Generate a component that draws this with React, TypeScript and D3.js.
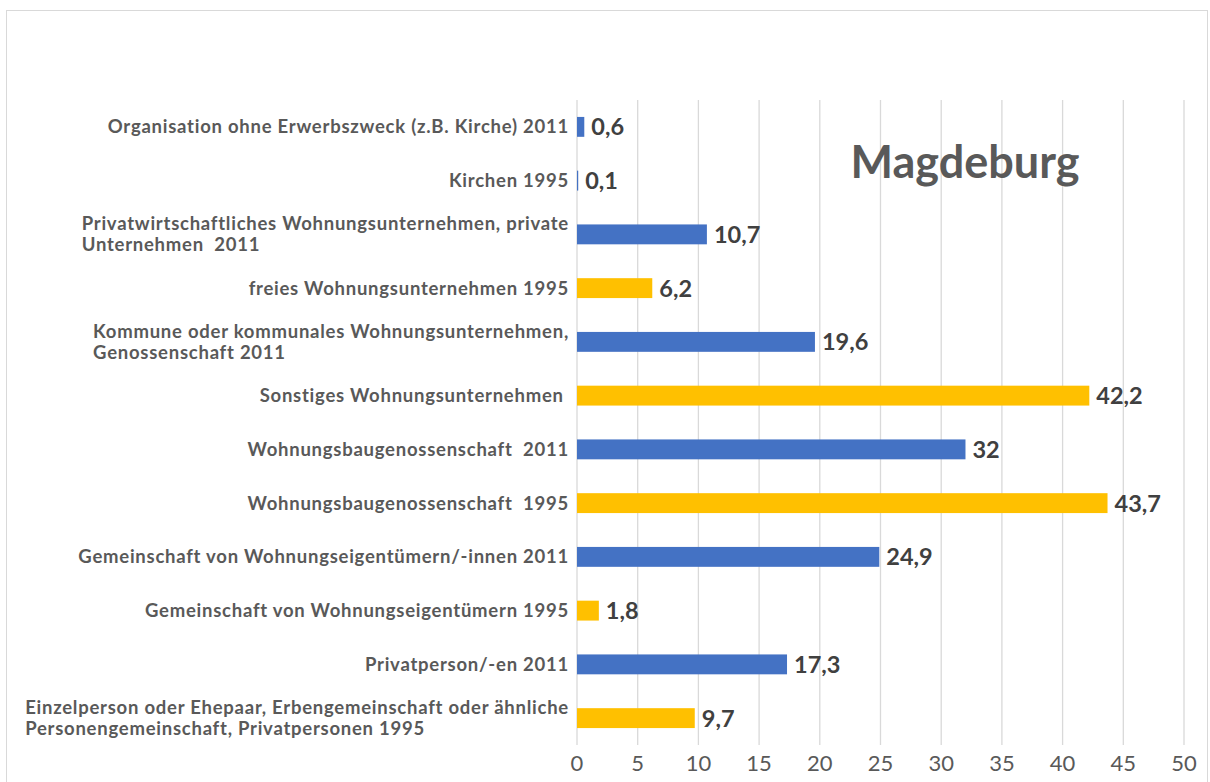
import React, { useRef, useEffect } from "react";
import * as d3 from "d3";

// categories top to bottom, "\n" marks a line break in the label
const categories: string[] = [
  "Organisation ohne Erwerbszweck (z.B. Kirche) 2011",
  "Kirchen 1995",
  "Privatwirtschaftliches Wohnungsunternehmen, private\nUnternehmen  2011",
  "freies Wohnungsunternehmen 1995",
  "Kommune oder kommunales Wohnungsunternehmen,\nGenossenschaft 2011",
  "Sonstiges Wohnungsunternehmen ",
  "Wohnungsbaugenossenschaft  2011",
  "Wohnungsbaugenossenschaft  1995",
  "Gemeinschaft von Wohnungseigentümern/-innen 2011",
  "Gemeinschaft von Wohnungseigentümern 1995",
  "Privatperson/-en 2011",
  "Einzelperson oder Ehepaar, Erbengemeinschaft oder ähnliche\nPersonengemeinschaft, Privatpersonen 1995",
];
const values: number[] = [0.6, 0.1, 10.7, 6.2, 19.6, 42.2, 32, 43.7, 24.9, 1.8, 17.3, 9.7];
const series: string[] = [
  "2011", "2011", "2011", "1995", "2011", "1995",
  "2011", "1995", "2011", "1995", "2011", "1995",
];
const xTicks: number[] = [0, 5, 10, 15, 20, 25, 30, 35, 40, 45, 50];
const title = "Magdeburg";

const App = () => {
  const svgRef = useRef<SVGSVGElement>(null);

  const drawChart = () => {
    const width = 1210;
    const height = 782;
    const margin = { top: 100, right: 26, bottom: 37, left: 577 };

    const svg = d3.select(svgRef.current);
    svg.selectAll("*").remove();
    svg.attr("width", width).attr("height", height);

    const font = "Lato, 'Open Sans', sans-serif";

    /* chart frame */
    svg
      .append("rect")
      .attr("x", 6.5)
      .attr("y", 10.5)
      .attr("width", 1201)
      .attr("height", 800)
      .attr("fill", "#fff")
      .attr("stroke", "#d9d9d9");

    const x = d3
      .scaleLinear()
      .domain([0, 50])
      .range([margin.left, width - margin.right]);

    const y = d3
      .scaleBand()
      .domain(categories)
      .range([margin.top, height - margin.bottom])
      .paddingInner(0.63)
      .paddingOuter(0.315);

    const color = d3.scaleOrdinal<string, string>().domain(["2011", "1995"]).range(["#4472c4", "#ffc000"]);

    /* gridlines */
    svg
      .append("g")
      .selectAll("line")
      .data(xTicks)
      .enter()
      .append("line")
      .attr("x1", (d) => x(d))
      .attr("x2", (d) => x(d))
      .attr("y1", margin.top)
      .attr("y2", height - margin.bottom)
      .attr("stroke", "#d9d9d9")
      .attr("stroke-width", 1.3);

    /* tick labels */
    svg
      .append("g")
      .selectAll("text")
      .data(xTicks)
      .enter()
      .append("text")
      .attr("x", (d) => x(d))
      .attr("y", height - margin.bottom + 26)
      .attr("text-anchor", "middle")
      .style("font-family", font)
      .style("font-size", "22px")
      .attr("fill", "#595959")
      .text((d) => d);

    /* bars */
    svg
      .append("g")
      .selectAll("rect")
      .data(categories)
      .enter()
      .append("rect")
      .attr("x", x(0))
      .attr("y", (d) => y(d)!)
      .attr("width", (d, i) => x(values[i]) - x(0))
      .attr("height", y.bandwidth())
      .attr("fill", (d, i) => color(series[i]));

    /* value labels */
    svg
      .append("g")
      .selectAll("text")
      .data(categories)
      .enter()
      .append("text")
      .attr("x", (d, i) => x(values[i]) + 7)
      .attr("y", (d) => y(d)! + y.bandwidth() / 2)
      .attr("dy", "0.36em")
      .style("font-family", font)
      .style("font-size", "23.5px")
      .style("font-weight", "700")
      .attr("fill", "#404040")
      .text((d, i) => String(values[i]).replace(".", ","));

    /* category labels: multi-line blocks are left aligned, block right aligned */
    const labelRight = margin.left - 8;
    const lineH = 21;
    categories.forEach((c) => {
      const lines = c.split("\n");
      const cy = y(c)! + y.bandwidth() / 2;
      const t = svg
        .append("text")
        .style("font-family", font)
        .style("font-size", "18.5px")
        .style("font-weight", "700")
        .style("letter-spacing", "0.75px")
        .style("white-space", "pre")
        .attr("fill", "#595959");
      lines.forEach((ln, j) => {
        t.append("tspan")
          .attr("x", 0)
          .attr("y", cy + (j - (lines.length - 1) / 2) * lineH)
          .attr("dy", "0.35em")
          .text(ln);
      });
      const w = (t.node() as SVGTextElement).getBBox().width;
      t.selectAll("tspan").attr("x", labelRight - w);
    });

    /* title */
    svg
      .append("text")
      .attr("x", 965)
      .attr("y", 178)
      .attr("text-anchor", "middle")
      .style("font-family", font)
      .style("font-size", "45px")
      .style("font-weight", "700")
      .attr("fill", "#595959")
      .text(title);
  };

  useEffect(() => {
    document.body.style.margin = "0";
    drawChart();
  }, []);

  return (
    <div>
      <svg ref={svgRef} />
    </div>
  );
};

export default App;
